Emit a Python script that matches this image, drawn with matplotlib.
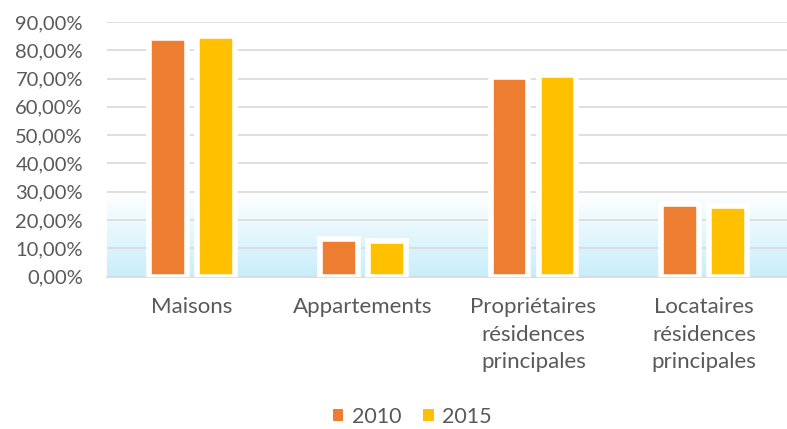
import numpy as np
import matplotlib
matplotlib.use("Agg")
import matplotlib.pyplot as plt
from matplotlib.colors import LinearSegmentedColormap
from matplotlib.ticker import FuncFormatter

plt.rcParams['font.family'] = ['Lato', 'DejaVu Sans']

categories = ["Maisons", "Appartements",
              "Propriétaires\nrésidences\nprincipales",
              "Locataires\nrésidences\nprincipales"]
years = ["2010", "2015"]
val_2010 = [84.3, 13.1, 70.6, 25.5]
val_2015 = [85.0, 12.5, 71.3, 24.9]
colors = ["#ED7D31", "#FFC000"]
text_col = "#595959"

fig = plt.figure(figsize=(7.87, 4.29), dpi=100)
ax = fig.add_axes([106.6/787, 1-276.5/429, 683/787, 254.5/429])

x = np.arange(len(categories))
ax.set_xlim(-0.5, len(categories)-0.5)
ax.set_ylim(0, 90)

# light blue gradient at the bottom of the plot area
cmap = LinearSegmentedColormap.from_list("bg", ["#C9EEFB", "#FFFFFF"])
grad = np.linspace(0, 1, 100).reshape(-1, 1)
ax.imshow(grad, cmap=cmap, origin="lower", aspect="auto",
          extent=(-0.5, len(categories)-0.5, 0, 29.5), zorder=0)

ax.set_yticks(np.arange(0, 91, 10))
ax.yaxis.grid(True, color="#D9D9D9", linewidth=1.2, zorder=1)
ax.set_axisbelow(True)

w = 0.222
off = 0.1405
for i, (vals, c) in enumerate(zip([val_2010, val_2015], colors)):
    ax.bar(x + (i*2-1)*off, vals, width=w, color=c, edgecolor="white",
           linewidth=4, label=years[i], zorder=3)

for s in ["top", "right", "left"]:
    ax.spines[s].set_visible(False)
ax.spines["bottom"].set_color("#D9D9D9")
ax.spines["bottom"].set_linewidth(1.2)

ax.yaxis.set_major_formatter(FuncFormatter(lambda v, p: f"{v:.2f}%".replace(".", ",")))
ax.tick_params(axis="y", length=0, pad=17, labelsize=14.5, labelcolor=text_col)
ax.set_xticks(x)
ax.set_xticklabels(categories, linespacing=1.45)
ax.tick_params(axis="x", length=0, pad=15, labelsize=16, labelcolor=text_col)

leg = fig.legend(loc="lower center", bbox_to_anchor=(0.524, -0.035), ncol=2,
                 frameon=False, fontsize=15.5, handlelength=0.5, handleheight=0.5,
                 handletextpad=0.4, columnspacing=1.0, borderpad=0.3)
for t in leg.get_texts():
    t.set_color(text_col)
for h in leg.legend_handles:
    h.set_linewidth(0)

fig.savefig("out.png", dpi=100)
